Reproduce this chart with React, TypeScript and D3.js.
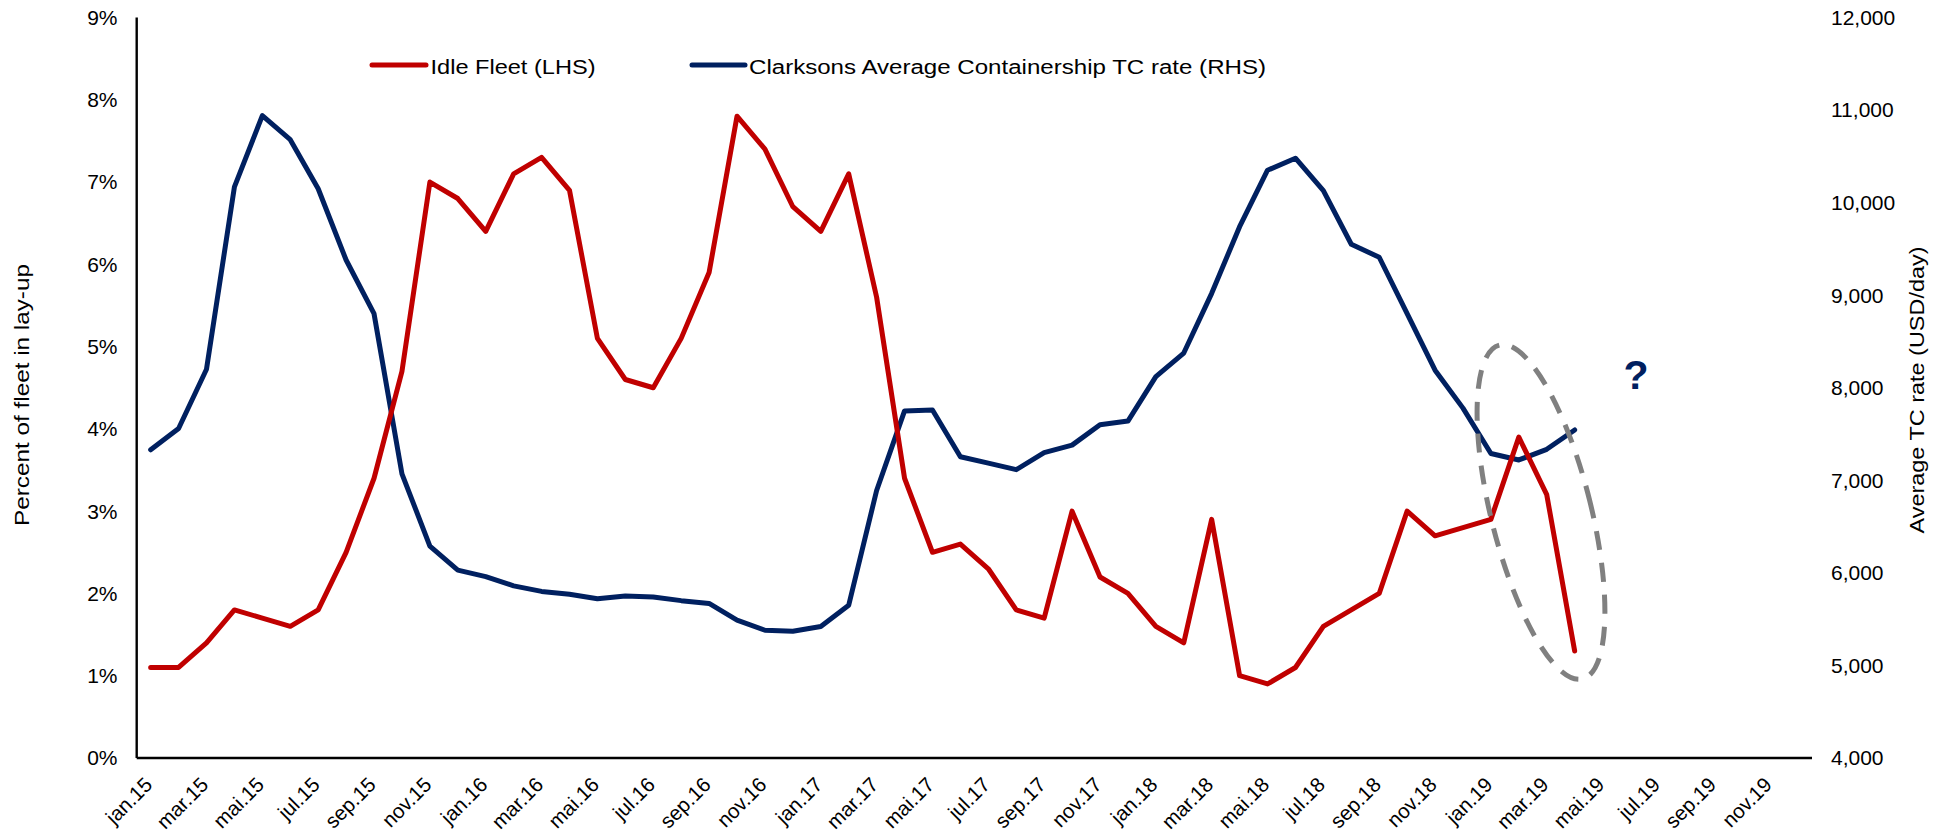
import React from "react";
import * as d3 from "d3";

const W = 1953;
const H = 833;

const monthNames = ["jan", "feb", "mar", "apr", "mai", "jun", "jul", "aug", "sep", "okt", "nov", "des"];
const years = ["15", "16", "17", "18", "19"];
const months: string[] = years.flatMap((y) => monthNames.map((m) => `${m}.${y}`));

// Idle fleet, % of fleet in lay-up (LHS), jan.15 .. apr.19
const idleFleet = [
  1.1, 1.1, 1.4, 1.8, 1.7, 1.6, 1.8, 2.5, 3.4, 4.7, 7.0, 6.8,
  6.4, 7.1, 7.3, 6.9, 5.1, 4.6, 4.5, 5.1, 5.9, 7.8, 7.4, 6.7,
  6.4, 7.1, 5.6, 3.4, 2.5, 2.6, 2.3, 1.8, 1.7, 3.0, 2.2, 2.0,
  1.6, 1.4, 2.9, 1.0, 0.9, 1.1, 1.6, 1.8, 2.0, 3.0, 2.7, 2.8,
  2.9, 3.9, 3.2, 1.3,
];

// Clarksons average containership TC rate, USD/day (RHS), jan.15 .. apr.19
const tcRate = [
  7330, 7560, 8200, 10170, 10940, 10680, 10150, 9380, 8800, 7070, 6290, 6030,
  5960, 5860, 5800, 5770, 5720, 5750, 5740, 5700, 5670, 5490, 5380, 5370,
  5420, 5650, 6890, 7750, 7760, 7255, 7185, 7115, 7300, 7380, 7600, 7640,
  8120, 8375, 9020, 9740, 10350, 10480, 10130, 9550, 9410, 8800, 8190, 7780,
  7290, 7220, 7335, 7544,
];

const leftTicks = [0, 1, 2, 3, 4, 5, 6, 7, 8, 9];
const rightTicks = [4000, 5000, 6000, 7000, 8000, 9000, 10000, 11000, 12000];
const xTickLabels = months.filter((_, i) => i % 2 === 0);

const RED = "#C00000";
const NAVY = "#002060";
const FONT = "'Liberation Sans', Arial, sans-serif";

export default function App() {
  const x0 = 136.7;
  const x1 = 1812;
  const yTop = 17.5;
  const yBot = 758;

  const x = d3.scaleBand<string>().domain(months).range([x0, x1]).paddingInner(0).paddingOuter(0);
  const cx = (m: string) => (x(m) as number) + x.bandwidth() / 2;
  const yL = d3.scaleLinear().domain([0, 9]).range([yBot, yTop]);
  const yR = d3.scaleLinear().domain([4000, 12000]).range([yBot, yTop]);

  const idlePath = d3
    .line<number>()
    .x((_, i) => cx(months[i]))
    .y((d) => yL(d))(idleFleet) as string;
  const tcPath = d3
    .line<number>()
    .x((_, i) => cx(months[i]))
    .y((d) => yR(d))(tcRate) as string;

  const fmt = d3.format(",");

  return (
    <svg
      width={W}
      height={H}
      style={{ position: "absolute", left: 0, top: 0, background: "#fff" }}
      fontFamily={FONT}
    >
      <rect x={0} y={0} width={W} height={H} fill="#fff" />

      {/* axes lines */}
      <line x1={x0} x2={x0} y1={yTop} y2={yBot} stroke="#000" strokeWidth={2.4} />
      <line x1={x0} x2={x1} y1={yBot} y2={yBot} stroke="#000" strokeWidth={2.4} />

      {/* left ticks */}
      {leftTicks.map((t) => (
        <text key={"l" + t} x={117.5} y={yL(t)} dy="0.35em" textAnchor="end" fontSize={21} fill="#000">
          {t + "%"}
        </text>
      ))}

      {/* right ticks */}
      {rightTicks.map((t) => (
        <text key={"r" + t} x={1831} y={yR(t)} dy="0.35em" textAnchor="start" fontSize={21} fill="#000">
          {fmt(t)}
        </text>
      ))}

      {/* x tick labels */}
      {xTickLabels.map((m) => (
        <text
          key={"x" + m}
          transform={`translate(${cx(m) + 3},786) rotate(-45)`}
          textAnchor="end"
          fontSize={20.5}
          fill="#000"
        >
          {m}
        </text>
      ))}

      {/* axis titles */}
      <text
        transform={`translate(29,395) rotate(-90)`}
        textAnchor="middle"
        fontSize={20}
        textLength={262}
        lengthAdjust="spacingAndGlyphs"
        fill="#000"
      >
        Percent of fleet in lay-up
      </text>
      <text
        transform={`translate(1924,390) rotate(-90)`}
        textAnchor="middle"
        fontSize={20}
        textLength={287}
        lengthAdjust="spacingAndGlyphs"
        fill="#000"
      >
        Average TC rate (USD/day)
      </text>

      {/* legend */}
      <line x1={372} x2={426} y1={65} y2={65} stroke={RED} strokeWidth={5} strokeLinecap="round" />
      <text x={430.5} y={74} fontSize={20} textLength={165} lengthAdjust="spacingAndGlyphs" fill="#000">
        Idle Fleet (LHS)
      </text>
      <line x1={692} x2={745} y1={65} y2={65} stroke={NAVY} strokeWidth={5} strokeLinecap="round" />
      <text x={749} y={74} fontSize={20} textLength={517} lengthAdjust="spacingAndGlyphs" fill="#000">
        Clarksons Average Containership TC rate (RHS)
      </text>

      {/* data lines */}
      <path d={tcPath} fill="none" stroke={NAVY} strokeWidth={5} strokeLinejoin="round" strokeLinecap="round" />
      <path d={idlePath} fill="none" stroke={RED} strokeWidth={5} strokeLinejoin="round" strokeLinecap="round" />

      {/* dashed ellipse annotation */}
      <ellipse
        cx={0}
        cy={0}
        rx={50}
        ry={172}
        transform="translate(1541,512) rotate(-14)"
        fill="none"
        stroke="#808080"
        strokeWidth={5}
        strokeDasharray="19 13"
      />
      <text x={1636} y={389} textAnchor="middle" fontSize={41} fontWeight="bold" fill={NAVY}>
        ?
      </text>
    </svg>
  );
}
